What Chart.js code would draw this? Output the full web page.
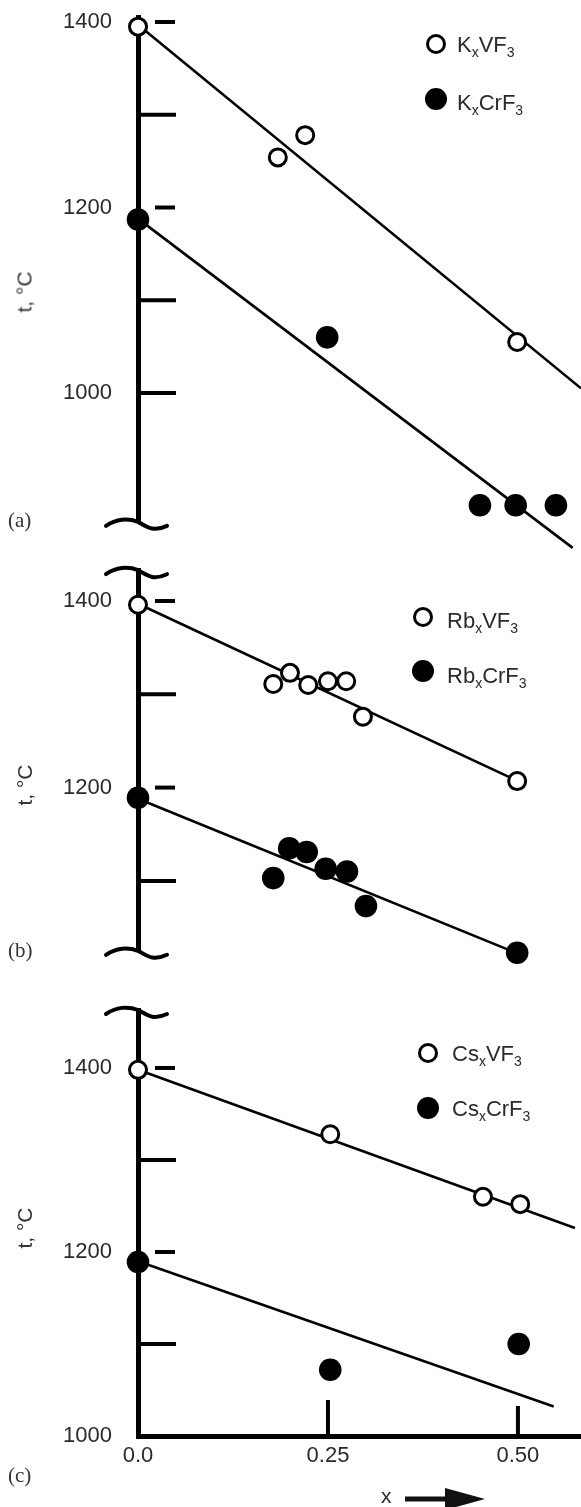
<!DOCTYPE html>
<html>
<head>
<meta charset="utf-8">
<script src="https://cdn.jsdelivr.net/npm/chart.js@4.4.0/dist/chart.umd.min.js"></script>
<style>
html,body{margin:0;padding:0;background:#fff;}
#wrap{position:relative;width:581px;height:1507px;overflow:hidden;font-family:"Liberation Sans",Arial,sans-serif;color:#222;}
canvas{position:absolute;left:0;top:0;}
.ytitle{position:absolute;font-size:21px;line-height:21px;white-space:nowrap;color:#333;transform:translate(-50%,-50%) rotate(-90deg);}
.panel{position:absolute;left:8px;font-family:"Liberation Serif","Times New Roman",serif;font-size:21px;line-height:21px;color:#333;}
.leg{position:absolute;font-size:22px;line-height:22px;white-space:nowrap;color:#2a2a2a;}
.leg sub{font-size:14px;vertical-align:-5px;line-height:0;}
.mk{position:absolute;border-radius:50%;box-sizing:border-box;transform:translate(-50%,-50%);}
.mk.open{width:20px;height:20px;border:3px solid #000;background:#fff;}
.mk.fill{width:22px;height:22px;background:#000;}
.xt{position:absolute;font-size:21px;line-height:21px;color:#2a2a2a;}
</style>
</head>
<body>
<div id="wrap">
  <canvas id="ca" width="581" height="1507"></canvas>
  <canvas id="cb" width="581" height="1507"></canvas>
  <canvas id="cc" width="581" height="1507"></canvas>

  <div class="ytitle" style="left:24px;top:292px;">t, °C</div>
  <div class="ytitle" style="left:24px;top:785px;">t, °C</div>
  <div class="ytitle" style="left:24px;top:1228px;">t, °C</div>

  <div class="panel" style="top:510px;">(a)</div>
  <div class="panel" style="top:940px;">(b)</div>
  <div class="panel" style="top:1465px;">(c)</div>

  <div class="mk open" style="left:436px;top:44px;"></div>
  <div class="leg" style="left:457px;top:34px;">K<sub>x</sub>VF<sub>3</sub></div>
  <div class="mk fill" style="left:436px;top:99px;"></div>
  <div class="leg" style="left:457px;top:92px;">K<sub>x</sub>CrF<sub>3</sub></div>

  <div class="mk open" style="left:423px;top:617px;"></div>
  <div class="leg" style="left:447px;top:610px;">Rb<sub>x</sub>VF<sub>3</sub></div>
  <div class="mk fill" style="left:423px;top:671px;"></div>
  <div class="leg" style="left:447px;top:665px;">Rb<sub>x</sub>CrF<sub>3</sub></div>

  <div class="mk open" style="left:428px;top:1053px;"></div>
  <div class="leg" style="left:452px;top:1043px;">Cs<sub>x</sub>VF<sub>3</sub></div>
  <div class="mk fill" style="left:428px;top:1108px;"></div>
  <div class="leg" style="left:452px;top:1098px;">Cs<sub>x</sub>CrF<sub>3</sub></div>

  <div class="xt" style="left:381px;top:1485px;">x</div>
  <svg style="position:absolute;left:405px;top:1488px;" width="82" height="22" viewBox="0 0 82 22">
    <rect x="0" y="8.5" width="44" height="5" fill="#111"/>
    <polygon points="40,0 80,11 40,22" fill="#111"/>
  </svg>
</div>

<script>
// ---- axis ticks ----
const xTickValues = [0, 0.25, 0.5];
const xTickLabels = ['0.0', '0.25', '0.50'];
const yTickLabels = [1400, 1200, 1000];
const yFullTicks = [1300, 1100, 1000];
const yDashTicks = [1400, 1200];

// ---- panel (a): KxVF3 / KxCrF3 ----
const aVx = [0, 0.184, 0.22, 0.499];
const aVy = [1395, 1254, 1278, 1055];
const aCrx = [0, 0.249, 0.45, 0.497, 0.55];
const aCry = [1187, 1060, 879, 879, 879];
const aVfitX = [0, 0.583];
const aVfitY = [1397, 1005];
const aCrfitX = [0, 0.572];
const aCrfitY = [1188, 833];

// ---- panel (b): RbxVF3 / RbxCrF3 ----
const bVx = [0, 0.178, 0.2, 0.224, 0.25, 0.274, 0.296, 0.499];
const bVy = [1396, 1311, 1323, 1310, 1314, 1314, 1276, 1207];
const bCrx = [0, 0.178, 0.199, 0.222, 0.247, 0.275, 0.3, 0.499];
const bCry = [1189, 1103, 1135, 1131, 1113, 1110, 1073, 1023];
const bVfitX = [0, 0.5];
const bVfitY = [1397, 1207];
const bCrfitX = [0, 0.5];
const bCrfitY = [1188, 1022];

// ---- panel (c): CsxVF3 / CsxCrF3 ----
const cVx = [0, 0.253, 0.454, 0.503];
const cVy = [1398, 1328, 1260, 1252];
const cCrx = [0, 0.253, 0.501];
const cCry = [1189, 1072, 1100];
const cVfitX = [0, 0.575];
const cVfitY = [1398, 1226];
const cCrfitX = [0, 0.547];
const cCrfitY = [1190, 1032];

const pts = (xs, ys) => xs.map((x, i) => ({x: x, y: ys[i]}));

function squiggle(ctx, cx, cy) {
  ctx.beginPath();
  ctx.moveTo(cx - 32, cy + 3);
  ctx.bezierCurveTo(cx - 22, cy - 4, cx - 10, cy - 5, cx, cy - 1);
  ctx.bezierCurveTo(cx + 8, cy + 3, cx + 14, cy + 10, cx + 29, cy + 3);
  ctx.stroke();
}

const decor = {
  id: 'decor',
  beforeDatasetsDraw(chart, args, o) {
    const ctx = chart.ctx, y = chart.scales.y, x = chart.scales.x;
    const x0 = x.getPixelForValue(0);
    ctx.save();
    ctx.strokeStyle = '#000';
    ctx.lineWidth = 4;
    ctx.lineCap = 'butt';
    yFullTicks.forEach(v => {
      if (v > y.min && v <= y.max) {
        const py = y.getPixelForValue(v);
        ctx.beginPath(); ctx.moveTo(x0, py); ctx.lineTo(x0 + 38, py); ctx.stroke();
      }
    });
    yDashTicks.forEach(v => {
      if (v > y.min && v <= y.max) {
        const py = y.getPixelForValue(v);
        ctx.beginPath(); ctx.moveTo(x0 + 17, py); ctx.lineTo(x0 + 37, py); ctx.stroke();
      }
    });
    if (o.xMarks) {
      const py = y.getPixelForValue(y.min);
      o.xMarks.forEach((v, i) => {
        const px = x.getPixelForValue(v);
        ctx.beginPath(); ctx.moveTo(px, py); ctx.lineTo(px, py - o.xMarkLen[i]); ctx.stroke();
      });
    }
    ctx.restore();
  },
  afterDraw(chart, args, o) {
    const ctx = chart.ctx, ca = chart.chartArea;
    const x0 = chart.scales.x.getPixelForValue(0);
    ctx.save();
    ctx.strokeStyle = '#000';
    ctx.lineWidth = 4;
    ctx.lineCap = 'round';
    if (o.breakTop) squiggle(ctx, x0, ca.top + 1);
    if (o.breakBottom) squiggle(ctx, x0, ca.bottom);
    ctx.restore();
  }
};

const FONT = '"Liberation Sans", Arial, sans-serif';
const noPad = s => { s.paddingTop = 0; s.paddingBottom = 0; s.paddingLeft = 0; s.paddingRight = 0; };

function makeChart(id, c) {
  return new Chart(document.getElementById(id), {
    type: 'scatter',
    data: {
      datasets: [
        {label: c.vName, data: pts(c.vx, c.vy), pointRadius: 8.5, pointBorderWidth: 3,
         pointBorderColor: '#000', pointBackgroundColor: '#fff', order: 0, clip: false},
        {label: c.crName, data: pts(c.crx, c.cry), pointRadius: 11.3, pointBorderWidth: 0,
         pointBorderColor: '#000', pointBackgroundColor: '#000', order: 0, clip: false},
        {label: c.vName + ' fit', data: pts(c.vfx, c.vfy), showLine: true, pointRadius: 0,
         borderColor: '#000', borderWidth: 2.6, order: 1, clip: false},
        {label: c.crName + ' fit', data: pts(c.crfx, c.crfy), showLine: true, pointRadius: 0,
         borderColor: '#000', borderWidth: 2.6, order: 1, clip: false}
      ]
    },
    options: {
      responsive: false,
      animation: false,
      devicePixelRatio: 1,
      events: [],
      layout: {autoPadding: false, padding: {top: c.padTop, bottom: c.padBottom, left: 0, right: 0}},
      plugins: {
        legend: {display: false},
        tooltip: {enabled: false},
        decor: {breakTop: c.breakTop, breakBottom: c.breakBottom, xMarks: c.xMarks, xMarkLen: c.xMarkLen}
      },
      scales: {
        x: {
          type: 'linear', min: 0, max: 0.583, display: c.showX,
          grid: {display: false, drawTicks: false},
          border: {display: true, width: 5, color: '#000'},
          ticks: {padding: 7, color: '#2a2a2a', font: {family: FONT, size: 22},
                  callback: (v, i) => xTickLabels[i]},
          afterBuildTicks: s => { s.ticks = xTickValues.map(v => ({value: v})); },
          afterFit: s => { s.height = c.showX ? 40 : 0; noPad(s); }
        },
        y: {
          type: 'linear', min: c.min, max: c.max,
          grid: {display: false, drawTicks: false},
          border: {display: true, width: 5, color: '#000'},
          ticks: {padding: 26, color: '#2a2a2a', font: {family: FONT, size: 22},
                  autoSkip: false, callback: v => String(v)},
          afterBuildTicks: s => { s.ticks = yTickLabels.filter(v => v >= s.min && v <= s.max).map(v => ({value: v})); },
          afterFit: s => { s.width = 138; noPad(s); }
        }
      }
    },
    plugins: [decor]
  });
}

makeChart('ca', {
  vName: 'KxVF3', crName: 'KxCrF3',
  vx: aVx, vy: aVy, crx: aCrx, cry: aCry,
  vfx: aVfitX, vfy: aVfitY, crfx: aCrfitX, crfy: aCrfitY,
  min: 860, max: 1405, padTop: 17.36, padBottom: 984.15,
  showX: false, breakTop: false, breakBottom: true
});
makeChart('cb', {
  vName: 'RbxVF3', crName: 'RbxCrF3',
  vx: bVx, vy: bVy, crx: bCrx, cry: bCry,
  vfx: bVfitX, vfy: bVfitY, crfx: bCrfitX, crfy: bCrfitY,
  min: 1024, max: 1433, padTop: 570.2, padBottom: 555.2,
  showX: false, breakTop: true, breakBottom: true
});
makeChart('cc', {
  vName: 'CsxVF3', crName: 'CsxCrF3',
  vx: cVx, vy: cVy, crx: cCrx, cry: cCry,
  vfx: cVfitX, vfy: cVfitY, crfx: cCrfitX, crfy: cCrfitY,
  min: 1000, max: 1463, padTop: 1010, padBottom: 31,
  showX: true, breakTop: true, breakBottom: false,
  xMarks: [0.25, 0.5], xMarkLen: [36, 30]
});
</script>
</body>
</html>
